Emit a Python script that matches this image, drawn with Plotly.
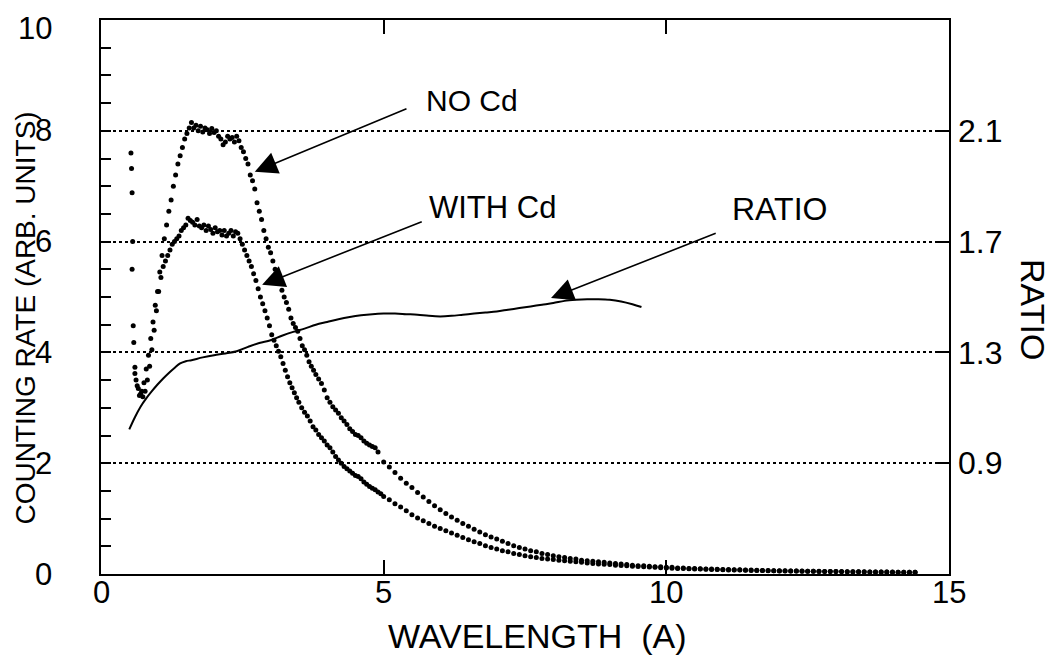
import plotly.graph_objects as go

# ---------------- data ----------------
nocd_x = [0.53, 0.54, 0.55, 0.56, 0.55, 0.57, 0.58, 0.60, 0.62, 0.66, 0.70,
          0.72, 0.76, 0.80, 0.84, 0.88, 0.92, 0.96, 1.00, 1.04, 1.08, 1.12, 1.16, 1.20,
          1.24, 1.28, 1.32, 1.36, 1.40, 1.44, 1.48, 1.52, 1.56, 1.60, 1.64, 1.68, 1.72,
          1.76, 1.80, 1.84, 1.88, 1.92, 1.96, 2.00, 2.04, 2.08, 2.12, 2.16, 2.20, 2.24,
          2.28, 2.32, 2.36, 2.40, 2.44, 2.48, 2.52, 2.56, 2.60, 2.64, 2.68, 2.72, 2.76,
          2.80, 2.84, 2.88, 2.92, 2.96, 3.00, 3.04, 3.08, 3.12, 3.16, 3.20, 3.24, 3.28,
          3.32, 3.36, 3.40, 3.44, 3.48, 3.52, 3.56, 3.60, 3.64, 3.68, 3.72, 3.76, 3.80,
          3.85, 3.90, 3.95, 4.00, 4.05, 4.10, 4.15, 4.20, 4.25, 4.30, 4.35, 4.40, 4.45,
          4.50, 4.55, 4.60, 4.65, 4.70, 4.75, 4.80, 4.85, 4.90,
          5.0, 5.1, 5.2, 5.3, 5.4, 5.5, 5.6, 5.7, 5.8, 5.9, 6.0, 6.1, 6.2, 6.3, 6.4, 6.5,
          6.6, 6.7, 6.8, 6.9, 7.0, 7.1, 7.2, 7.3, 7.4, 7.5, 7.6, 7.7, 7.8, 7.9, 8.0, 8.1,
          8.2, 8.3, 8.4, 8.5, 8.6, 8.7, 8.8, 8.9, 9.0, 9.1, 9.2, 9.3, 9.4, 9.5, 9.6, 9.7,
          9.8, 9.9, 10.0, 10.1, 10.2, 10.3, 10.4, 10.5, 10.6, 10.7, 10.8, 10.9, 11.0, 11.1,
          11.2, 11.3, 11.4, 11.5, 11.6, 11.7, 11.8, 11.9, 12.0, 12.1, 12.2, 12.3, 12.4,
          12.5, 12.6, 12.7, 12.8, 12.9, 13.0, 13.1, 13.2, 13.3, 13.4, 13.5, 13.6, 13.7,
          13.8, 13.9, 14.0, 14.1, 14.2, 14.3, 14.4]
nocd_y = [7.60, 7.32, 6.88, 6.00, 5.50, 4.48, 4.18, 3.73, 3.50, 3.35, 3.25,
          3.30, 3.45, 3.70, 3.95, 4.25, 4.55, 4.85, 5.10, 5.45, 5.75, 6.05, 6.30, 6.55,
          6.75, 7.00, 7.20, 7.40, 7.55, 7.70, 7.85, 7.95, 8.05, 8.15, 8.05, 8.10, 8.00,
          8.08, 7.98, 8.05, 8.02, 7.95, 8.04, 7.97, 8.00, 7.90, 7.85, 7.75, 7.80, 7.90,
          7.85, 7.88, 7.80, 7.90, 7.82, 7.70, 7.62, 7.50, 7.40, 7.20, 7.10, 6.95, 6.70,
          6.55, 6.40, 6.20, 6.05, 5.90, 5.80, 5.65, 5.50, 5.38, 5.25, 5.12, 5.00, 4.90,
          4.78, 4.62, 4.52, 4.45, 4.38, 4.25, 4.12, 4.05, 3.95, 3.83, 3.75, 3.68, 3.60,
          3.52, 3.44, 3.32, 3.18, 3.10, 3.02, 2.96, 2.90, 2.82, 2.76, 2.70, 2.62, 2.57,
          2.52, 2.50, 2.46, 2.40, 2.36, 2.33, 2.30, 2.28, 2.20,
          2.02, 1.93, 1.83, 1.73, 1.64, 1.56, 1.47, 1.39, 1.31, 1.23, 1.16, 1.09, 1.03,
          0.97, 0.91, 0.86, 0.81, 0.76, 0.71, 0.67, 0.63, 0.59, 0.55, 0.51, 0.48, 0.45,
          0.42, 0.40, 0.37, 0.35, 0.33, 0.31, 0.30, 0.28, 0.27, 0.25, 0.24, 0.23, 0.22,
          0.21, 0.20, 0.19, 0.18, 0.17, 0.16, 0.15, 0.15, 0.14, 0.13, 0.13, 0.12, 0.12,
          0.11, 0.11, 0.10, 0.10, 0.095, 0.09, 0.09, 0.085, 0.08, 0.08, 0.075, 0.075,
          0.07, 0.07, 0.068, 0.065, 0.063, 0.06, 0.06, 0.058, 0.055, 0.055, 0.052, 0.05,
          0.05, 0.048, 0.046, 0.045, 0.044, 0.043, 0.042, 0.04, 0.04, 0.039, 0.038,
          0.037, 0.036, 0.035, 0.034, 0.033, 0.032, 0.031, 0.03]

withcd_x = [0.60, 0.64, 0.68, 0.74, 0.78, 0.82, 0.86, 0.90, 0.94, 0.98, 1.02, 1.06,
            1.10, 1.14, 1.18, 1.22, 1.26, 1.30, 1.34, 1.38, 1.42, 1.46, 1.50, 1.54, 1.58,
            1.62, 1.66, 1.70, 1.74, 1.78, 1.82, 1.86, 1.90, 1.94, 1.98, 2.02, 2.06, 2.10,
            2.14, 2.18, 2.22, 2.26, 2.30, 2.34, 2.38, 2.42, 2.46, 2.50, 2.54, 2.58, 2.62,
            2.66, 2.70, 2.74, 2.78, 2.82, 2.86, 2.90, 2.94, 2.98, 3.02, 3.06, 3.10, 3.14,
            3.18, 3.22, 3.26, 3.30, 3.34, 3.38, 3.42, 3.46, 3.50, 3.55, 3.60, 3.65, 3.70,
            3.75, 3.80, 3.85, 3.90, 3.95, 4.00, 4.05, 4.10, 4.15, 4.20, 4.25, 4.30, 4.35,
            4.40, 4.45, 4.50, 4.55, 4.60, 4.65, 4.70, 4.75, 4.80, 4.85, 4.90, 4.95,
            5.0, 5.1, 5.2, 5.3, 5.4, 5.5, 5.6, 5.7, 5.8, 5.9, 6.0, 6.1, 6.2, 6.3, 6.4, 6.5,
            6.6, 6.7, 6.8, 6.9, 7.0, 7.1, 7.2, 7.3, 7.4, 7.5, 7.6, 7.7, 7.8, 7.9, 8.0, 8.1,
            8.2, 8.3, 8.4, 8.5, 8.6, 8.7, 8.8, 8.9, 9.0, 9.1, 9.2, 9.3, 9.4, 9.5, 9.6, 9.7,
            9.8, 9.9, 10.0, 10.1, 10.2, 10.3, 10.4, 10.5, 10.6, 10.7, 10.8, 10.9, 11.0,
            11.1, 11.2, 11.3, 11.4, 11.5, 11.6, 11.7, 11.8, 11.9, 12.0, 12.1, 12.2, 12.3,
            12.4, 12.5, 12.6, 12.7, 12.8, 12.9, 13.0, 13.1, 13.2, 13.3, 13.4, 13.5, 13.6,
            13.7, 13.8, 13.9, 14.0, 14.1, 14.2, 14.3, 14.4]
withcd_y = [3.62, 3.40, 3.22, 3.20, 3.30, 3.50, 3.75, 4.05, 4.40, 4.75, 5.10, 5.35,
            5.55, 5.65, 5.75, 5.85, 5.95, 6.00, 6.05, 6.10, 6.20, 6.25, 6.30, 6.42, 6.38,
            6.35, 6.30, 6.40, 6.28, 6.25, 6.30, 6.20, 6.28, 6.22, 6.15, 6.25, 6.18, 6.20,
            6.12, 6.20, 6.10, 6.15, 6.20, 6.10, 6.18, 6.15, 6.05, 5.95, 5.85, 5.75, 5.65,
            5.55, 5.42, 5.30, 5.15, 5.00, 4.88, 4.75, 4.62, 4.48, 4.32, 4.22, 4.12, 4.02,
            3.92, 3.80, 3.68, 3.56, 3.45, 3.36, 3.27, 3.18, 3.10, 3.00, 2.92, 2.85, 2.76,
            2.66, 2.60, 2.52, 2.46, 2.40, 2.33, 2.28, 2.20, 2.12, 2.06, 2.00, 1.94, 1.90,
            1.86, 1.82, 1.78, 1.76, 1.72, 1.66, 1.62, 1.58, 1.55, 1.52, 1.48, 1.45,
            1.40, 1.34, 1.27, 1.21, 1.14, 1.07, 1.01, 0.96, 0.91, 0.86, 0.82, 0.78, 0.74,
            0.70, 0.66, 0.62, 0.58, 0.55, 0.51, 0.48, 0.45, 0.42, 0.40, 0.37, 0.35, 0.33,
            0.31, 0.30, 0.28, 0.27, 0.26, 0.25, 0.24, 0.23, 0.22, 0.21, 0.20, 0.19, 0.18,
            0.175, 0.17, 0.16, 0.155, 0.15, 0.14, 0.135, 0.13, 0.125, 0.12, 0.115, 0.11,
            0.105, 0.10, 0.10, 0.095, 0.09, 0.088, 0.085, 0.082, 0.08, 0.077, 0.074,
            0.072, 0.07, 0.067, 0.065, 0.063, 0.061, 0.06, 0.058, 0.056, 0.055, 0.053,
            0.052, 0.05, 0.049, 0.048, 0.046, 0.045, 0.044, 0.043, 0.042, 0.041, 0.04,
            0.039, 0.038, 0.037, 0.036, 0.035, 0.034, 0.033, 0.032, 0.031, 0.03, 0.03]

ratio_x = [0.5, 0.6, 0.7, 0.8, 0.9, 1.0, 1.1, 1.2, 1.3, 1.4, 1.5, 1.6, 1.8, 2.0, 2.2,
           2.4, 2.6, 2.8, 3.0, 3.2, 3.4, 3.6, 3.8, 4.0, 4.2, 4.4, 4.6, 4.8, 5.0, 5.2,
           5.4, 5.6, 5.8, 6.0, 6.2, 6.4, 6.6, 6.8, 7.0, 7.2, 7.4, 7.6, 7.8, 8.0, 8.2,
           8.4, 8.6, 8.8, 9.0, 9.2, 9.4, 9.56]
ratio_y = [1.022, 1.066, 1.104, 1.134, 1.160, 1.184, 1.206, 1.226, 1.244, 1.260,
           1.268, 1.272, 1.282, 1.290, 1.296, 1.304, 1.320, 1.334, 1.344, 1.360,
           1.374, 1.386, 1.400, 1.410, 1.420, 1.428, 1.434, 1.438, 1.440, 1.440,
           1.438, 1.436, 1.432, 1.430, 1.432, 1.436, 1.440, 1.444, 1.448, 1.454,
           1.460, 1.466, 1.472, 1.478, 1.486, 1.490, 1.492, 1.492, 1.490, 1.484,
           1.474, 1.464]

left_ticks = [0, 2, 4, 6, 8, 10]
left_labels = ["0", "2", "4", "6", "8", "10"]
left_label_pos = [0, 2, 4, 6, 8, 9.85]
right_ticks = [0.9, 1.3, 1.7, 2.1]
right_labels = ["0.9", "1.3", "1.7", "2.1"]
x_ticks = [0, 5, 10, 15]
x_labels = ["0", "5", "10", "15"]

FONT = "Liberation Sans, Arial, Helvetica, sans-serif"

fig = go.Figure()
fig.add_trace(go.Scatter(x=nocd_x, y=nocd_y, mode="markers", name="NO Cd",
                         marker=dict(color="black", size=5)))
fig.add_trace(go.Scatter(x=withcd_x, y=withcd_y, mode="markers", name="WITH Cd",
                         marker=dict(color="black", size=5)))
fig.add_trace(go.Scatter(x=ratio_x, y=ratio_y, mode="lines", name="RATIO", yaxis="y2",
                         line=dict(color="black", width=2, shape="spline")))

# the page body adds an 8 px offset, margins compensate for it
fig.update_layout(
    width=1060, height=662,
    margin=dict(l=93, r=119, t=12, b=96, autoexpand=False),
    paper_bgcolor="white", plot_bgcolor="white",
    showlegend=False,
    font=dict(family=FONT, color="black", size=30),
    xaxis=dict(range=[0, 15], tickvals=x_ticks, ticks="inside", ticklen=14, tickwidth=1.5,
               tickcolor="black", showline=True, linewidth=2, linecolor="black",
               mirror="ticks", showgrid=False, zeroline=False, automargin=False,
               showticklabels=False),
    yaxis=dict(range=[0, 10], tickvals=left_ticks, ticks="inside", ticklen=10, tickwidth=1.5,
               tickcolor="black", showline=True, linewidth=2, linecolor="black",
               mirror=True, showgrid=True, gridcolor="black", griddash="dot", gridwidth=1.5,
               zeroline=False, showticklabels=False, automargin=False,
               minor=dict(dtick=0.5, ticks="inside", ticklen=10, tickwidth=1.5,
                          tickcolor="black", showgrid=False)),
    yaxis2=dict(overlaying="y", side="right", range=[0.5, 2.5], tickvals=right_ticks,
                ticktext=right_labels, ticks="inside", ticklen=12, tickwidth=1.5,
                tickcolor="black", showline=False, showgrid=False, zeroline=False,
                automargin=False, ticklabelstandoff=8, tickfont=dict(family=FONT, size=32)),
)

annos = []
for v, lab in zip(left_label_pos, left_labels):
    annos.append(dict(text=lab, xref="paper", yref="y", x=-0.055, y=v, xanchor="right",
                      yanchor="middle", showarrow=False, font=dict(size=31)))
for v, lab in zip(x_ticks, x_labels):
    annos.append(dict(text=lab, xref="x", yref="paper", x=v, y=-0.033, xanchor="center",
                      yanchor="middle", showarrow=False, font=dict(size=31)))
annos += [
    dict(text="COUNTING RATE (ARB. UNITS)", xref="paper", yref="paper", x=-0.089, y=0.462,
         xanchor="center", yanchor="middle", textangle=-90, showarrow=False,
         font=dict(size=28)),
    dict(text="WAVELENGTH  (A)", xref="paper", yref="paper", x=0.514, y=-0.112,
         xanchor="center", yanchor="middle", showarrow=False, font=dict(size=34)),
    dict(text="RATIO", xref="paper", yref="paper", x=1.099, y=0.4765,
         xanchor="center", yanchor="middle", textangle=90, showarrow=False,
         font=dict(size=34)),
    dict(text="NO Cd", x=6.56, y=8.54, xanchor="center", yanchor="middle",
         showarrow=False, font=dict(size=30)),
    dict(text="WITH Cd", x=6.93, y=6.62, xanchor="center", yanchor="middle",
         showarrow=False, font=dict(size=31)),
    dict(text="RATIO", x=12.01, y=6.59, xanchor="center", yanchor="middle",
         showarrow=False, font=dict(size=32)),
]
arrows = [((2.72, 7.26), (5.43, 8.41)), ((2.85, 5.22), (5.70, 6.37)), ((7.96, 4.98), (10.9, 6.16))]
for (tx, ty), (sx, sy) in arrows:
    annos.append(dict(text="", x=tx, y=ty, ax=sx, ay=sy, axref="x", ayref="y",
                      showarrow=True, arrowhead=2, arrowsize=2.8, arrowwidth=1.6,
                      arrowcolor="black", standoff=0))
fig.update_layout(annotations=annos)

fig.write_html("out.html")
